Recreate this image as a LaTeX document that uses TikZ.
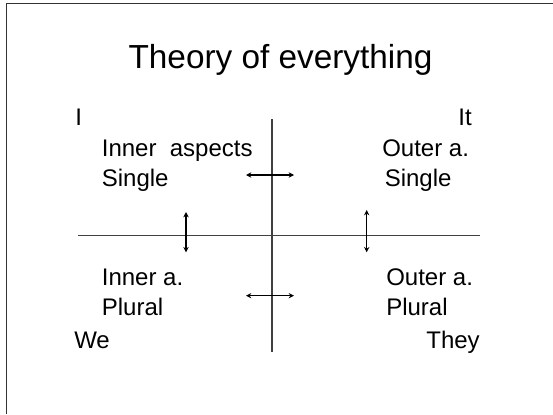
\documentclass[tikz,border=0pt]{standalone}
\usepackage{fontspec}
\setmainfont{Liberation Sans}
\usetikzlibrary{arrows.meta}

\begin{document}
\begin{tikzpicture}[x=0.75pt, y=-0.75pt, >={Stealth[length=4pt,width=4pt]},
    lbl/.style={font=\fontsize{18}{20}\selectfont, inner sep=0pt},
    axis/.style={draw=black!75, line width=0.8pt},
    twoway/.style={<->, line width=1.1pt}]
    \useasboundingbox (0,0) rectangle (553,414);

    % slide frame
    \draw[black!80, line width=1.2pt] (6.5,414) -- (6.5,3.5) -- (553,3.5);

    % title
    \node[font=\fontsize{25}{30}\selectfont, inner sep=0pt, anchor=base] (title) at (280.5,68.3) {Theory of everything};

    % axes
    \coordinate (vtop) at (272,119);
    \coordinate (vbot) at (272,352.3);
    \coordinate (hleft) at (78,235.7);
    \coordinate (hright) at (480,235.7);
    \draw[axis] (vtop) -- (vbot);
    \draw[axis] (hleft) -- (hright);

    % corner labels
    \node[lbl, anchor=base west] (i) at (75,125) {I};
    \node[lbl, anchor=base east] (it) at (472,125) {It};
    \node[lbl, anchor=base west] (we) at (74,348.3) {We};
    \node[lbl, anchor=base east] (they) at (480,348.3) {They};

    % quadrant texts
    \node[lbl, anchor=base west] (innerasp) at (101.6,156.7) {Inner\ \ aspects};
    \node[lbl, anchor=base west] (singleleft) at (101.6,186.5) {Single};
    \node[lbl, anchor=base west] (outerone) at (382,156.7) {Outer a.};
    \node[lbl, anchor=base west] (singleright) at (384.5,186.5) {Single};
    \node[lbl, anchor=base west] (innerpl) at (101.6,285) {Inner a.};
    \node[lbl, anchor=base west] (pluralleft) at (101.6,315) {Plural};
    \node[lbl, anchor=base west] (outerpl) at (386,285) {Outer a.};
    \node[lbl, anchor=base west] (pluralright) at (386,315) {Plural};

    % two-way arrows
    \coordinate (tl) at (246,175);   \coordinate (tr) at (294,175);
    \coordinate (bl) at (246,295.7); \coordinate (br) at (294,295.7);
    \coordinate (lu) at (186,212);   \coordinate (ld) at (186,252.3);
    \coordinate (ru) at (366.7,210); \coordinate (rd) at (366.7,252.3);
    \draw[twoway] (tl) -- (tr);
    \draw[twoway] (bl) -- (br);
    \draw[twoway] (lu) -- (ld);
    \draw[twoway] (ru) -- (rd);
\end{tikzpicture}
\end{document}
